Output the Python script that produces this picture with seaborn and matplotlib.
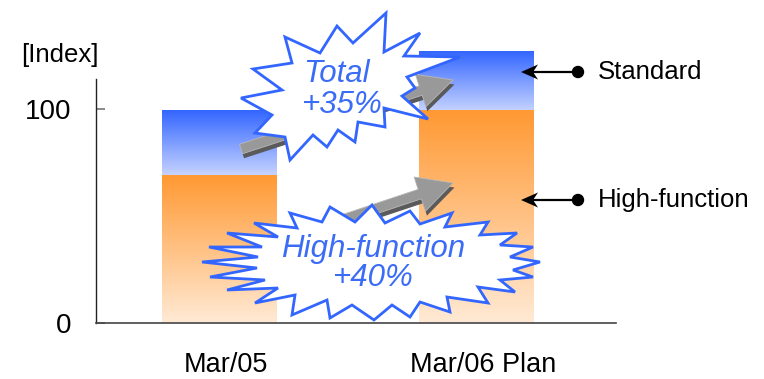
import numpy as np
import pandas as pd
import matplotlib
matplotlib.use("Agg")
import matplotlib.pyplot as plt
from matplotlib.colors import LinearSegmentedColormap
from matplotlib.patches import Polygon, FancyArrow, Circle
from matplotlib.lines import Line2D
from matplotlib.transforms import Affine2D, ScaledTranslation
import seaborn as sns

# ---- data -------------------------------------------------------------
periods = ["Mar/05", "Mar/06 Plan"]
high_function = [69, 99]
standard = [30, 28]
y_ticks = [0, 100]
unit_label = "[Index]"
total_callout = ["Total", "+35%"]
high_callout = ["High-function", "+40%"]
segment_labels = ["Standard", "High-function"]

# ---- style ------------------------------------------------------------
sns.set_theme(style="white")
plt.rcParams["font.family"] = ["Liberation Sans", "DejaVu Sans"]

BLUE_TOP, BLUE_BOTTOM = "#3366ff", "#c6d3ff"
ORANGE_TOP, ORANGE_BOTTOM = "#ff9933", "#ffead5"
CALLOUT_BLUE = "#3b6cf7"

W, H = 764, 379
fig = plt.figure(figsize=(W / 100, H / 100), dpi=100)
ax = fig.add_axes([96 / W, (H - 323) / H, 520 / W, 300 / H])

# pixel coordinates (origin top-left) for decorations
px = Affine2D().scale(1 / W, -1 / H).translate(0, 1) + fig.transFigure

totals = [h + s for h, s in zip(high_function, standard)]
df = pd.DataFrame({"period": periods, "high": high_function, "total": totals})

BAR_W = 0.444
sns.barplot(data=df, x="period", y="total", color=BLUE_TOP, width=BAR_W,
            saturation=1, ax=ax)
n_total = len(ax.patches)
sns.barplot(data=df, x="period", y="high", color=ORANGE_TOP, width=BAR_W,
            saturation=1, ax=ax)


def gradient_fill(patch, c_top, c_bottom, bottom=None, z=1):
    x, y = patch.get_x(), patch.get_y()
    w, h = patch.get_width(), patch.get_height()
    y0 = y if bottom is None else bottom
    cmap = LinearSegmentedColormap.from_list("seg", [c_bottom, c_top])
    grad = np.linspace(0, 1, 256).reshape(-1, 1)
    ax.imshow(grad, cmap=cmap, extent=[x, x + w, y0, y + h], origin="lower",
              aspect="auto", zorder=z, interpolation="bilinear")
    patch.set_visible(False)


for i, p in enumerate(ax.patches[:n_total]):
    gradient_fill(p, BLUE_TOP, BLUE_BOTTOM, bottom=high_function[i], z=1)
for p in ax.patches[n_total:]:
    gradient_fill(p, ORANGE_TOP, ORANGE_BOTTOM, z=1.1)

ax.set_xlim(-0.4786, 1.5447)
ax.set_ylim(0, 140)
ax.set_xlabel("")
ax.set_ylabel("")

# ---- axes -------------------------------------------------------------
for side in ("top", "right"):
    ax.spines[side].set_visible(False)
ax.spines["left"].set_bounds(0, 114)
ax.spines["left"].set_color("#222222")
ax.spines["left"].set_linewidth(1.0)
ax.spines["bottom"].set_color("#444444")
ax.spines["bottom"].set_linewidth(1.2)

ax.set_yticks(y_ticks)
ax.set_yticklabels([str(v) for v in y_ticks])
ax.tick_params(axis="y", left=True, direction="in", length=6.5, width=1.3,
               color="#808080", pad=18, labelsize=20, labelcolor="black")
ax.tick_params(axis="x", bottom=False, length=0, pad=21, labelsize=19.5,
               labelcolor="black")
for lbl in ax.get_xticklabels():
    lbl.set_transform(lbl.get_transform()
                      + ScaledTranslation(7 / 100, 0, fig.dpi_scale_trans))

fig.text(60, 55, unit_label, transform=px, ha="center", va="center",
         fontsize=18.5, color="black")


# ---- gray growth arrows ------------------------------------------------
def block_arrow(tail, tip, width, head_w, head_len, z):
    dx, dy = tip[0] - tail[0], tip[1] - tail[1]
    shadow = FancyArrow(tail[0] + 1.5, tail[1] + 4.5, dx, dy, width=width,
                        head_width=head_w, head_length=head_len,
                        length_includes_head=True, transform=px,
                        facecolor="#5a5a5a", edgecolor="none", zorder=z)
    face = FancyArrow(tail[0], tail[1], dx, dy, width=width,
                      head_width=head_w, head_length=head_len,
                      length_includes_head=True, transform=px,
                      facecolor="#999999", edgecolor="#b8b8b8", lw=0.6,
                      zorder=z + 0.01)
    fig.add_artist(shadow)
    fig.add_artist(face)


block_arrow((241, 149), (453, 80), 10, 34, 34, 3)
block_arrow((330, 224), (453, 183), 10, 36, 35, 3)

# ---- starburst callouts -----------------------------------------------
total_star = [
    (386, 13), (384, 52), (420, 33), (404, 56), (460, 57), (407, 77),
    (415, 88), (402, 96), (428, 119), (384, 108), (385, 127), (358, 122),
    (355, 142), (338, 130), (327, 147), (313, 135), (290, 160), (285, 137),
    (255, 133), (272, 115), (241, 98), (282, 90), (253, 69), (292, 63),
    (285, 37), (320, 53), (337, 26), (353, 43),
]
high_star = [
    (372, 205), (385, 223), (410, 211), (420, 224), (452, 213), (445, 227),
    (488, 222), (480, 235), (517, 233), (500, 245), (533, 247), (510, 257),
    (540, 262), (513, 270), (533, 277), (500, 280), (515, 292), (478, 287),
    (488, 303), (447, 297), (450, 312), (420, 302), (410, 317), (392, 305),
    (374, 320), (352, 305), (330, 318), (327, 300), (292, 315), (295, 295),
    (255, 303), (278, 288), (227, 290), (265, 280), (210, 277), (257, 268),
    (202, 262), (258, 257), (209, 247), (262, 247), (227, 233), (278, 237),
    (254, 223), (297, 228), (290, 213), (322, 222), (330, 207), (355, 222),
]
for verts in (total_star, high_star):
    fig.add_artist(Polygon(verts, closed=True, transform=px, facecolor="white",
                           edgecolor="#3366ff", linewidth=2.0,
                           joinstyle="miter", zorder=4))

star_font = dict(transform=px, ha="center", va="baseline", fontsize=22.5,
                 style="italic", color=CALLOUT_BLUE, zorder=5)
fig.text(336, 82.5, total_callout[0], **star_font)
fig.text(341, 113, total_callout[1], **star_font)
fig.text(373, 256.5, high_callout[0], **star_font)
fig.text(372, 286.5, high_callout[1], **star_font)

# ---- segment pointers (stealth arrowhead, line, dot, label) -------------
TIP_X, DOT_X, LABEL_X = 521, 578, 598
for y, text in zip((72, 200), segment_labels):
    fig.add_artist(Line2D([TIP_X + 10, DOT_X], [y, y], transform=px,
                          color="black", lw=1.6, zorder=6))
    head = [(TIP_X, y), (TIP_X + 17, y - 7.5), (TIP_X + 12, y),
            (TIP_X + 17, y + 7.5)]
    fig.add_artist(Polygon(head, closed=True, transform=px, color="black",
                           lw=0, zorder=6))
    fig.add_artist(Circle((DOT_X, y), 5.5, transform=px, color="black",
                          zorder=6))
    fig.text(LABEL_X, y, text, transform=px, ha="left", va="center",
             fontsize=18.5, color="black")

fig.savefig("out.png", dpi=100)
